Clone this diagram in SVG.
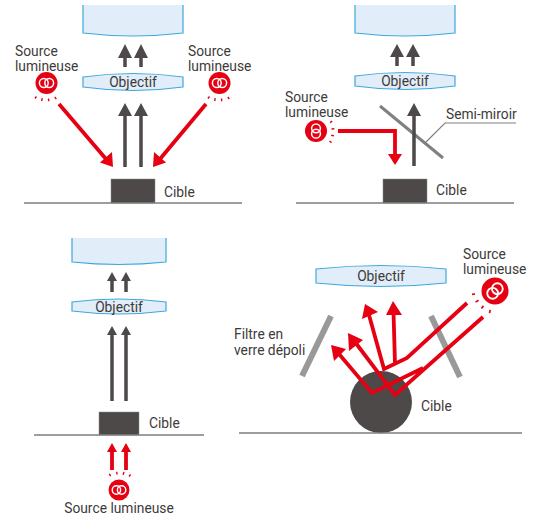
<svg xmlns="http://www.w3.org/2000/svg" width="540" height="522" viewBox="0 0 540 522">
<style>
text{font-family:Roboto,"Liberation Sans",sans-serif;font-size:13.800px;fill:#3e3a39}
.lens{fill:#e1edf8;stroke:#3ea8dc;stroke-width:1.200}
.gnd{stroke:#7d7d7d;stroke-width:1.500;fill:none}
.tgt{fill:#4c4948;stroke:#8a8a8a;stroke-width:.5}
.dk{stroke:#4c4948;stroke-width:3.500;fill:none}
.rd{stroke:#e60012;stroke-width:3.800;fill:none}
.rdf{fill:#e60012}.dkf{fill:#4c4948}
.filt{stroke:#999;stroke-width:6;fill:none}
.ring{fill:none;stroke:#fff;stroke-width:1.500}
.ray{stroke:#e60012;stroke-width:1.400;fill:none}
</style>
<defs>
<g id="src">
<circle r="11" fill="#e60012"/>
<circle cx="-2.700" r="4.400" class="ring"/><circle cx="2.700" r="4.400" class="ring"/>
</g>
<path id="rays" class="ray" d="M-10 13.500l-1.600 2M-4.200 15.200l-.7 2.800M2 15.500l.3 2.800M8.300 14l1.500 2.200"/>
</defs>
<g id="panel-1">
<g id="p1-lens-top"><path class="lens" d="M83 5V33Q133 39 183 33V5"/></g>
<g id="p1-objectif"><path class="lens" d="M83 77Q133 70 183 77V87Q133 94 83 87Z"/><text x="133" y="87" text-anchor="middle">Objectif</text></g>
<g id="p1-source-left"><text x="15" y="56">Source</text><text x="15" y="71">lumineuse</text><use href="#src" x="46.500" y="83"/><use href="#rays" x="46.500" y="83"/></g>
<g id="p1-source-right"><text x="188" y="56">Source</text><text x="188" y="71">lumineuse</text><use href="#src" x="219.500" y="83"/><use href="#rays" x="219.500" y="83"/></g>
<g id="p1-cible"><rect class="tgt" x="111" y="179" width="44" height="24"/><text x="164" y="197">Cible</text></g>
<path id="p1-ground" class="gnd" d="M24 203H242"/>
</g>
<g id="panel-2">
<g id="p2-lens-top"><path class="lens" d="M355 5V33Q405 39 455 33V5"/></g>
<g id="p2-objectif"><path class="lens" d="M355 76Q405 69 455 76V86Q405 93 355 86Z"/><text x="405" y="86" text-anchor="middle">Objectif</text></g>
<g id="p2-source"><text x="285" y="102">Source</text><text x="285" y="117">lumineuse</text><use href="#src" transform="translate(316 131) rotate(90)"/><use href="#rays" transform="translate(316 131) rotate(-90)"/></g>
<g id="p2-cible"><rect class="tgt" x="383" y="179" width="44" height="24"/><text x="436" y="195">Cible</text></g>
<path id="p2-ground" class="gnd" d="M296 203H514"/>
<g id="p2-mirror"><path d="M380 106L443 158" stroke="#808080" stroke-width="3" fill="none"/><path d="M426 142L445 123H516" stroke="#808080" stroke-width="1.200" fill="none"/><text x="446" y="119">Semi-miroir</text></g>
</g>
<g id="panel-3">
<g id="p3-lens-top"><path class="lens" d="M72 238V262Q119 267 166 262V238"/></g>
<g id="p3-objectif"><path class="lens" d="M72 302Q119 296 166 302V311Q119 317 72 311Z"/><text x="119" y="312" text-anchor="middle">Objectif</text></g>
<g id="p3-cible"><rect class="tgt" x="99" y="412" width="40" height="23"/><text x="149" y="428">Cible</text></g>
<path id="p3-ground" class="gnd" d="M34 435H204"/>
<g id="p3-source"><use href="#src" transform="translate(119 490) scale(.95)"/><use href="#rays" transform="translate(119 490) rotate(180)"/><text x="119" y="513" text-anchor="middle">Source lumineuse</text></g>
</g>
<g id="panel-4">
<g id="p4-objectif"><path class="lens" d="M316 269Q381 262 446 269V283Q381 290 316 283Z"/><text x="381" y="281" text-anchor="middle">Objectif</text></g>
<g id="p4-source"><text x="463" y="259">Source</text><text x="463" y="274">lumineuse</text><use href="#src" transform="translate(495 291) rotate(-45) scale(1.230)"/><use href="#rays" transform="translate(495 291) rotate(45) scale(1.200)"/></g>
<g id="p4-cible"><circle cx="381" cy="402" r="31" fill="#4c4948"/><text x="421" y="411">Cible</text></g>
<path id="p4-ground" class="gnd" d="M239 433H522"/>
<g id="p4-filter-left"><path class="filt" d="M331 316L302 376"/><text x="234" y="339">Filtre en</text><text x="234" y="355">verre dépoli</text></g>
<path id="p4-filter-right" class="filt" d="M431 316L460 377"/>
</g>
<g id="connectors">
<path class="dk" d="M125 57V67M141 57V67M125 115V167M141 115V167"/>
<path class="dkf" d="M118 58L125 44L132 58ZM134 58L141 44L148 58ZM118 116L125 103L132 116ZM134 116L141 103L148 116Z"/>
<path class="rd" d="M59 104L106 159M206 104L160 159"/>
<path class="rdf" d="M113 167L100 162.500L112 152ZM153 167L154 152L166 162.500Z"/>
<path class="dk" d="M397 57V66M413 57V66M414 115V166"/>
<path class="dkf" d="M390 57L397 44L404 57ZM406 57L413 44L420 57ZM407 116L414 103L421 116Z"/>
<path class="rd" d="M338 131H395V155"/>
<path class="rdf" d="M388 154H402L395 165Z"/>
<path class="dk" d="M112 281V292M126 281V292M112 335V401M126 335V401"/>
<path class="dkf" d="M107 281L112 272L117 281ZM121 281L126 272L131 281ZM107 335L112 326L117 335ZM121 335L126 326L131 335Z"/>
<path class="rd" d="M112 452V470M126 452V470"/>
<path class="rdf" d="M107 452L112 443L117 452ZM121 452L126 443L131 452Z"/>
<path class="rd" d="M467 303L407 358L384 369L369 315M395 364L393.500 312M483 317L395 395L355 342M423 368L372 393L339 354"/>
<path class="rdf" d="M365 304L378 312L362 319ZM393 301L402 315L386 315ZM348 333L363 340L349 351ZM331 345L346 349L334 361Z"/>
</g>
</svg>
